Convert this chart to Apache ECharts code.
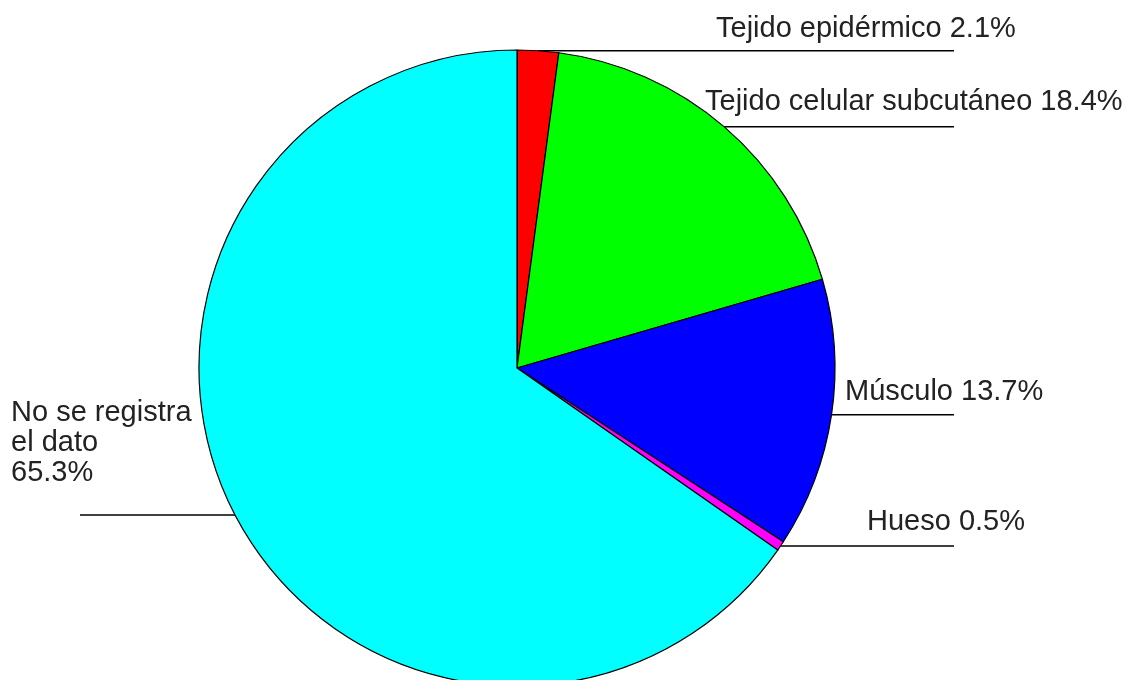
<!DOCTYPE html>
<html>
<head>
<meta charset="utf-8">
<script src="https://cdn.jsdelivr.net/npm/echarts@6/dist/echarts.min.js"></script>
<style>
  html, body { margin: 0; padding: 0; background: #fff; }
  #chart { width: 1127px; height: 680px; }
</style>
</head>
<body>
<div id="chart"></div>
<script>
// porcentajes por tejido, en orden horario desde las 12
var tissueNames = ['Tejido epidérmico', 'Tejido celular subcutáneo', 'Músculo', 'Hueso', 'No se registra\nel dato'];
var tissueValues = [2.1, 18.4, 13.7, 0.5, 65.3];
var tissueColors = ['#ff0000', '#00ff00', '#0000ff', '#ff00ff', '#00ffff'];

// posicion de cada etiqueta (texto) y fin de la linea guia
var labelPos = [
    {x: 716, y: 29, end: 954},
    {x: 705, y: 102, end: 954},
    {x: 845, y: 392, end: 954},
    {x: 867, y: 522, end: 954},
    {x: 11, y: 443, end: 80}
];

var myChart = echarts.init(document.getElementById('chart'));

var pieData = [];
for (var i = 0; i < tissueNames.length; i++) {
    pieData.push({
        name: tissueNames[i],
        value: tissueValues[i],
        itemStyle: {color: tissueColors[i]}
    });
}

var option = {
    animation: false,
    series: [
        {
            type: 'pie',
            center: [517, 368],
            radius: 318,
            startAngle: 90,
            clockwise: true,
            avoidLabelOverlap: false,
            data: pieData,
            itemStyle: {
                borderColor: '#000',
                borderWidth: 1.2
            },
            label: {
                show: true,
                position: 'outside',
                color: '#222',
                fontFamily: 'Liberation Sans, Arial, sans-serif',
                fontSize: 29,
                lineHeight: 30,
                formatter: function (p) {
                    var sep = p.dataIndex === 4 ? '\n' : ' ';
                    return p.name + sep + p.value + '%';
                }
            },
            labelLine: {
                show: true,
                length: 0,
                length2: 10,
                smooth: false,
                lineStyle: {color: '#000', width: 1.5}
            },
            labelLayout: function (params) {
                var lp = labelPos[params.dataIndex];
                var p0 = params.labelLinePoints[0];
                return {
                    x: lp.x,
                    y: lp.y,
                    align: 'left',
                    verticalAlign: 'middle',
                    labelLinePoints: [
                        [p0[0], p0[1]],
                        [p0[0], p0[1]],
                        [lp.end, p0[1]]
                    ]
                };
            },
            emphasis: {disabled: true}
        }
    ]
};

myChart.setOption(option);
</script>
</body>
</html>
